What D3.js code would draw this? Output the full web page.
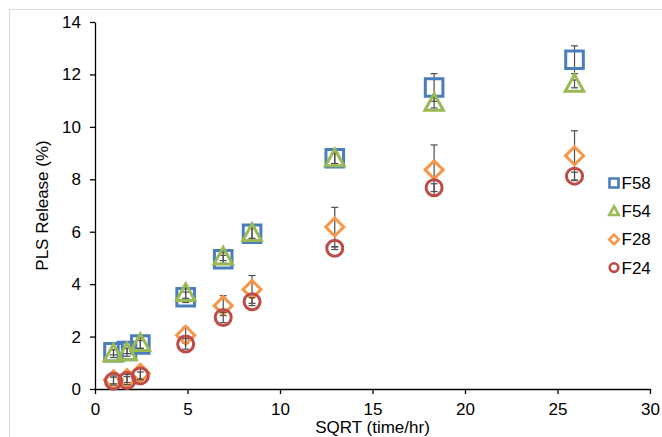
<!DOCTYPE html>
<html>
<head>
<meta charset="utf-8">
<script src="https://cdn.jsdelivr.net/npm/d3@7"></script>
<style>
  body { margin: 0; background: #fff; }
  svg text { font-family: "Liberation Sans", Arial, sans-serif; fill: #000; }
</style>
</head>
<body>
<div id="chart"></div>
<script>
const svgWidth = 662, svgHeight = 437;

// data: x = sqrt(time/hr)
const times = [1, 1.73, 2.45, 4.9, 6.93, 8.49, 12.96, 18.33, 25.92];
const seriesNames = ['F58', 'F54', 'F28', 'F24'];
const f58 = [1.4, 1.45, 1.7, 3.5, 4.95, 5.92, 8.8, 11.5, 12.56];
const f54 = [1.35, 1.4, 1.75, 3.66, 5.05, 5.95, 8.8, 10.92, 11.64];
const f28 = [0.35, 0.4, 0.6, 2.05, 3.18, 3.8, 6.18, 8.36, 8.9];
const f24 = [0.3, 0.32, 0.5, 1.72, 2.73, 3.33, 5.37, 7.68, 8.12];
const f58Err = [0.1, 0.1, 0.15, 0.2, 0.15, 0.2, 0.2, 0.53, 0.53];
const f54Err = [0.15, 0.15, 0.2, 0.2, 0.15, 0.2, 0.2, 0.2, 0.15];
const f28Err = [0.15, 0.15, 0.2, 0.3, 0.38, 0.53, 0.75, 0.95, 0.95];
const f24Err = [0.15, 0.15, 0.15, 0.2, 0.2, 0.15, 0.05, 0.15, 0.15];
const xTicks = [0, 5, 10, 15, 20, 25, 30];
const yTicks = [0, 2, 4, 6, 8, 10, 12, 14];

const series = [
  { name: 'F58', values: f58, err: f58Err, color: '#4a7ebb', shape: 'square' },
  { name: 'F54', values: f54, err: f54Err, color: '#98b954', shape: 'triangle' },
  { name: 'F28', values: f28, err: f28Err, color: '#f79646', shape: 'diamond' },
  { name: 'F24', values: f24, err: f24Err, color: '#be4b48', shape: 'circle' }
];

const svg = d3.select('#chart')
  .append('svg')
  .attr('width', svgWidth)
  .attr('height', svgHeight);

// chart area border (only top/left visible)
svg.append('rect')
  .attr('x', 9.5).attr('y', 9.5)
  .attr('width', 800).attr('height', 600)
  .attr('fill', 'none')
  .attr('stroke', '#d9d9d9')
  .attr('stroke-width', 1);

const xScale = d3.scaleLinear().domain([0, 30]).range([95, 650]);
const yScale = d3.scaleLinear().domain([0, 14]).range([389, 22]);

const xAxis = svg.append('g')
  .attr('transform', `translate(0,${yScale(0)})`)
  .call(d3.axisBottom(xScale).tickValues(xTicks).tickSize(5).tickSizeOuter(0).tickPadding(9));
const yAxis = svg.append('g')
  .attr('transform', `translate(${xScale(0)},0)`)
  .call(d3.axisLeft(yScale).tickValues(yTicks).tickSize(5).tickSizeOuter(0).tickPadding(9));

[xAxis, yAxis].forEach(ax => {
  ax.select('.domain').attr('stroke', '#000').attr('stroke-width', 1.3);
  ax.selectAll('.tick line').attr('stroke', '#000').attr('stroke-width', 1.3);
  ax.selectAll('.tick text')
    .attr('font-family', '"Liberation Sans", Arial, sans-serif')
    .attr('font-size', 17)
    .attr('fill', '#000');
});

svg.append('text')
  .attr('x', (xScale(0) + xScale(30)) / 2)
  .attr('y', 433)
  .attr('text-anchor', 'middle')
  .attr('font-size', 17)
  .text('SQRT (time/hr)');

svg.append('text')
  .attr('transform', 'rotate(-90)')
  .attr('x', -(yScale(0) + yScale(14)) / 2)
  .attr('y', 48)
  .attr('text-anchor', 'middle')
  .attr('font-size', 17)
  .text('PLS Release (%)');

function markerPath(shape, s) {
  // s = half size
  if (shape === 'square') return `M${-s},${-s}H${s}V${s}H${-s}Z`;
  if (shape === 'triangle') return `M0,${-s * 1.05}L${s * 1.05},${s * 0.85}L${-s * 1.05},${s * 0.85}Z`;
  if (shape === 'diamond') return `M0,${-s * 1.2}L${s * 1.2},0L0,${s * 1.2}L${-s * 1.2},0Z`;
  return `M${s},0A${s},${s} 0 1,1 ${-s},0A${s},${s} 0 1,1 ${s},0Z`;
}

const capW = 3.5;
series.forEach(sr => {
  const g = svg.append('g').attr('class', 'series');
  const pts = times.map((t, i) => ({ x: t, y: sr.values[i], e: sr.err[i] }));

  const eb = g.selectAll('g.err').data(pts).enter().append('g').attr('class', 'err')
    .attr('stroke', '#4d4d4d').attr('stroke-width', 1.2);
  eb.append('line')
    .attr('x1', d => xScale(d.x)).attr('x2', d => xScale(d.x))
    .attr('y1', d => yScale(d.y + d.e)).attr('y2', d => yScale(d.y - d.e));
  eb.append('line')
    .attr('x1', d => xScale(d.x) - capW).attr('x2', d => xScale(d.x) + capW)
    .attr('y1', d => yScale(d.y + d.e)).attr('y2', d => yScale(d.y + d.e));
  eb.append('line')
    .attr('x1', d => xScale(d.x) - capW).attr('x2', d => xScale(d.x) + capW)
    .attr('y1', d => yScale(d.y - d.e)).attr('y2', d => yScale(d.y - d.e));

  const half = sr.shape === 'circle' ? 8 : (sr.shape === 'diamond' ? 7.5 : 8.8);
  g.selectAll('path.mark').data(pts).enter().append('path')
    .attr('class', 'mark')
    .attr('d', markerPath(sr.shape, half))
    .attr('transform', d => `translate(${xScale(d.x)},${yScale(d.y)})`)
    .attr('fill', 'none')
    .attr('stroke', sr.color)
    .attr('stroke-width', 3);
});

// legend
const legend = svg.append('g').attr('transform', 'translate(614,183)');
const rows = legend.selectAll('g.row').data(series).enter().append('g')
  .attr('class', 'row')
  .attr('transform', (d, i) => `translate(0,${i * 28.2})`);
rows.append('path')
  .attr('d', d => markerPath(d.shape, d.shape === 'circle' ? 4.3 : (d.shape === 'diamond' ? 4 : 4.5)))
  .attr('fill', 'none')
  .attr('stroke', d => d.color)
  .attr('stroke-width', 2.6);
rows.append('text')
  .attr('x', 7.5)
  .attr('y', 6)
  .attr('font-size', 17)
  .text(d => d.name);
</script>
</body>
</html>
